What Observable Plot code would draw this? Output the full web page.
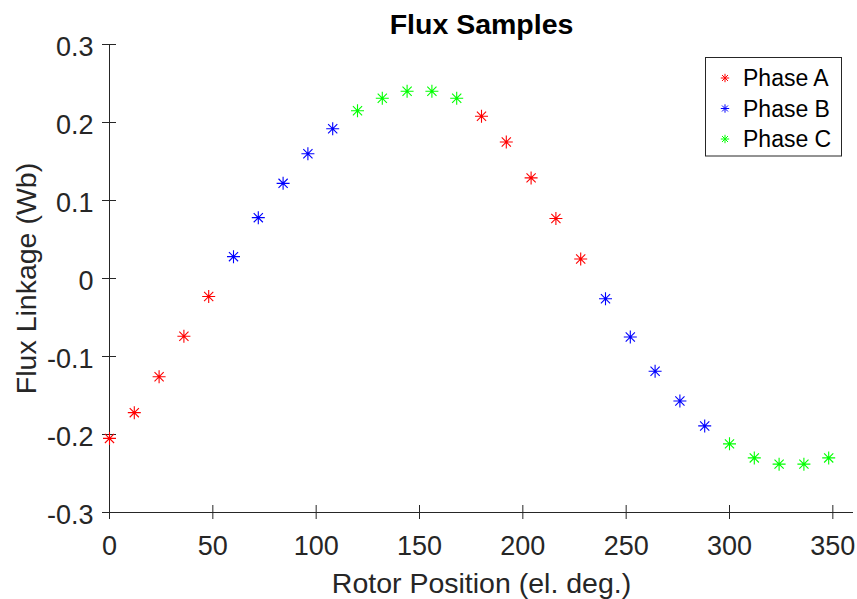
<!DOCTYPE html>
<html>
<head>
<meta charset="utf-8">
<script src="https://cdn.jsdelivr.net/npm/d3@7"></script>
<script src="https://cdn.jsdelivr.net/npm/@observablehq/plot@0.6"></script>
<style>
  html, body { margin: 0; padding: 0; background: #fff; }
  #chart { position: relative; width: 857px; height: 599px; font-family: "Liberation Sans", Arial, Helvetica, sans-serif; }
  #legend { position: absolute; left: 0; top: 0; }
</style>
</head>
<body>
<div id="chart"></div>
<script>
// ---- data ----
const title = "Flux Samples";
const xLabel = "Rotor Position (el. deg.)";
const yLabel = "Flux Linkage (Wb)";

const rotorPosition = [0, 12, 24, 36, 48, 60, 72, 84, 96, 108, 120, 132, 144, 156, 168,
                       180, 192, 204, 216, 228, 240, 252, 264, 276, 288, 300, 312, 324, 336, 348];
const fluxLinkage = [-0.205, -0.172, -0.126, -0.074, -0.023, 0.028, 0.078, 0.122, 0.160, 0.192,
                     0.215, 0.231, 0.240, 0.240, 0.231, 0.208, 0.175, 0.129, 0.077, 0.025,
                     -0.026, -0.075, -0.119, -0.157, -0.189, -0.212, -0.230, -0.238, -0.238, -0.230];
const phaseOf = ["Phase A", "Phase A", "Phase A", "Phase A", "Phase A",
                 "Phase B", "Phase B", "Phase B", "Phase B", "Phase B",
                 "Phase C", "Phase C", "Phase C", "Phase C", "Phase C",
                 "Phase A", "Phase A", "Phase A", "Phase A", "Phase A",
                 "Phase B", "Phase B", "Phase B", "Phase B", "Phase B",
                 "Phase C", "Phase C", "Phase C", "Phase C", "Phase C"];

const phases = ["Phase A", "Phase B", "Phase C"];
const phaseColors = ["#ff0000", "#0000ff", "#00ff00"];

const xDomain = [0, 360];
const yDomain = [-0.3, 0.3];
const xTicks = [0, 50, 100, 150, 200, 250, 300, 350];
const yTicks = [-0.3, -0.2, -0.1, 0, 0.1, 0.2, 0.3];
const yTickLabels = ["-0.3", "-0.2", "-0.1", "0", "0.1", "0.2", "0.3"];

const samples = rotorPosition.map((x, i) => ({x, y: fluxLinkage[i], phase: phaseOf[i]}));

// MATLAB-style '*' marker
const asterisk = {
  draw(ctx, size) {
    const r = Math.sqrt(size / Math.PI);
    const d = r * Math.SQRT1_2;
    ctx.moveTo(-r, 0); ctx.lineTo(r, 0);
    ctx.moveTo(0, -r); ctx.lineTo(0, r);
    ctx.moveTo(-d, -d); ctx.lineTo(d, d);
    ctx.moveTo(-d, d); ctx.lineTo(d, -d);
  }
};

const axisColor = "#262626";
const fontFamily = '"Liberation Sans", Arial, Helvetica, sans-serif';

const chart = Plot.plot({
  width: 857,
  height: 599,
  marginLeft: 109,
  marginRight: 4,
  marginTop: 44,
  marginBottom: 87,
  style: {fontFamily, background: "#fff", overflow: "visible"},
  x: {domain: xDomain},
  y: {domain: yDomain},
  color: {domain: phases, range: phaseColors},
  marks: [
    Plot.ruleX([xDomain[0]], {stroke: axisColor, strokeWidth: 1}),
    Plot.ruleY([yDomain[0]], {stroke: axisColor, strokeWidth: 1}),
    // crossing tick marks
    Plot.axisX({ticks: xTicks, tickSize: 14, dy: -7, tickFormat: () => "", label: null, stroke: axisColor}),
    Plot.axisY({ticks: yTicks, tickSize: 14, dx: 7, tickFormat: () => "", label: null, stroke: axisColor}),
    // tick labels
    Plot.axisX({ticks: xTicks, tickSize: 0, tickPadding: 23, fontSize: 27, fill: axisColor, label: null,
                tickFormat: d => String(d)}),
    Plot.axisY({ticks: yTicks, tickSize: 0, tickPadding: 16, fontSize: 27, fill: axisColor, label: null, dy: 3,
                tickFormat: d => yTickLabels[yTicks.indexOf(d)]}),
    // axis titles
    Plot.text([xLabel], {frameAnchor: "bottom", dy: 80, lineAnchor: "bottom", textAnchor: "middle", fontSize: 28.5, fill: axisColor, text: d => d}),
    Plot.text([yLabel], {frameAnchor: "left", dx: -74, rotate: -90, lineAnchor: "bottom", textAnchor: "middle", fontSize: 28.5, fill: axisColor, text: d => d}),
    Plot.text([title], {frameAnchor: "top", dy: -11, lineAnchor: "bottom", textAnchor: "middle", fontSize: 28.5, fontWeight: "bold", fill: "#000", text: d => d}),
    // samples
    Plot.dot(samples, {x: "x", y: "y", stroke: "phase", symbol: asterisk, r: 6.5, fill: "none", strokeWidth: 1.1})
  ]
});

const container = document.getElementById("chart");
container.appendChild(chart);

// legend (inside the axes, top-right)
const lg = d3.select(container).append("svg")
  .attr("id", "legend")
  .attr("width", 857).attr("height", 599)
  .style("pointer-events", "none");
const box = {x: 705.5, y: 57.5, w: 136, h: 98.5};
lg.append("rect")
  .attr("x", box.x).attr("y", box.y).attr("width", box.w).attr("height", box.h)
  .attr("fill", "#fff").attr("stroke", axisColor).attr("stroke-width", 1);
const rowY = [78, 108.5, 139];
const sym = d3.symbol(asterisk, Math.PI * 4.2 * 4.2)();
phases.forEach((p, i) => {
  lg.append("path")
    .attr("d", sym)
    .attr("transform", `translate(725,${rowY[i]})`)
    .attr("fill", "none").attr("stroke", phaseColors[i]).attr("stroke-width", 1);
  lg.append("text")
    .attr("x", 743).attr("y", rowY[i]).attr("dy", "0.35em")
    .attr("font-family", fontFamily).attr("font-size", 23).attr("fill", "#000")
    .text(p);
});
</script>
</body>
</html>
